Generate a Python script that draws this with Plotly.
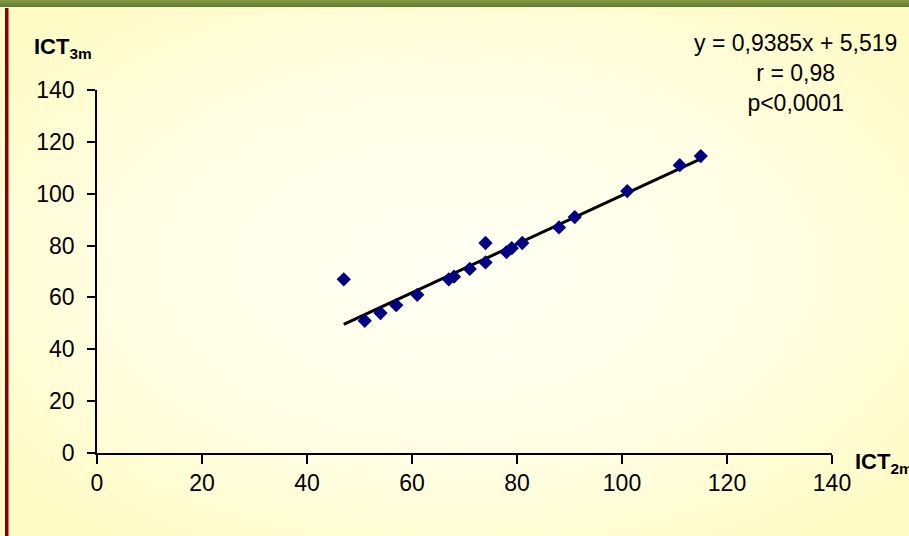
import base64
import plotly.graph_objects as go

# Data
ict_2m = [47, 51, 54, 57, 61, 67, 68, 71, 74, 74, 78, 79, 81, 88, 91, 101, 111, 115]
ict_3m = [67, 51, 54, 57, 61, 67, 68, 71, 73.5, 81, 77.5, 79, 81, 87, 91, 101, 111, 114.5]

slope = 0.9385
intercept = 5.519
eq_lines = ["y = 0,9385x + 5,519", "r = 0,98", "p<0,0001"]
x_ticks = [0, 20, 40, 60, 80, 100, 120, 140]
y_ticks = [0, 20, 40, 60, 80, 100, 120, 140]

W, H = 909, 536
L, R, T, B = 97, 77, 90, 83
pw, ph = W - L - R, H - T - B

fit_x = [min(ict_2m), max(ict_2m)]
fit_y = [slope * v + intercept for v in fit_x]

svg = f'''<svg xmlns="http://www.w3.org/2000/svg" width="{W}" height="{H}" viewBox="0 0 {W} {H}" preserveAspectRatio="none">
<defs>
<radialGradient id="g" cx="50%" cy="50%" r="65%">
<stop offset="0" stop-color="#fffff4"/>
<stop offset="0.55" stop-color="#fffee4"/>
<stop offset="1" stop-color="#fffbc4"/>
</radialGradient>
<linearGradient id="gb" x1="0" y1="0" x2="0" y2="1">
<stop offset="0" stop-color="#869a45"/>
<stop offset="1" stop-color="#5f7a2f"/>
</linearGradient>
</defs>
<rect width="{W}" height="{H}" fill="url(#g)"/>
<rect x="0" y="0" width="{W}" height="7" fill="url(#gb)"/>
<rect x="5" y="8" width="3.5" height="{H-8}" fill="#8a0000"/>
</svg>'''
src = "data:image/svg+xml;base64," + base64.b64encode(svg.encode()).decode()

fig = go.Figure()
fig.add_trace(go.Scatter(
    x=fit_x, y=fit_y, mode="lines",
    line=dict(color="black", width=3), hoverinfo="skip", showlegend=False))
fig.add_trace(go.Scatter(
    x=ict_2m, y=ict_3m, mode="markers",
    marker=dict(symbol="diamond", size=11, color="#000080", line=dict(width=0)),
    showlegend=False))

FAM = "Arial, Liberation Sans, sans-serif"
tick_font = dict(family=FAM, size=23, color="black")
ann_font = dict(family=FAM, size=23, color="black")
title_font = dict(family=FAM, size=22, color="black")

fig.update_layout(
    width=W, height=H,
    margin=dict(l=L, r=R, t=T, b=B),
    paper_bgcolor="#fffde0",
    plot_bgcolor="rgba(0,0,0,0)",
    font=tick_font,
    images=[dict(source=src, xref="paper", yref="paper",
                 x=-L / pw, y=1 + T / ph, sizex=W / pw, sizey=H / ph,
                 xanchor="left", yanchor="top", sizing="stretch", layer="below")],
    xaxis=dict(range=[0, 140], tickvals=x_ticks, ticktext=[str(v) for v in x_ticks],
               showgrid=False, zeroline=False, showline=True, linecolor="black",
               linewidth=1.5, ticks="outside", ticklen=9, tickwidth=1.5,
               tickcolor="black", tickfont=tick_font),
    yaxis=dict(range=[0, 140], tickvals=y_ticks, ticktext=[str(v) for v in y_ticks],
               showgrid=False, zeroline=False, showline=True, linecolor="black",
               linewidth=1.5, ticks="outside", ticklen=8, tickwidth=1.5,
               tickcolor="black", tickfont=tick_font, ticklabelstandoff=8),
    annotations=[
        dict(text="<br>".join(eq_lines), xref="paper", yref="paper",
             x=(795 - L) / pw, y=1 + (T - 73) / ph, xanchor="center", yanchor="middle",
             align="center", showarrow=False, font=ann_font),
        dict(text="<b>ICT<sub>3m</sub></b>", xref="paper", yref="paper",
             x=(32 - L) / pw, y=1 + (T - 48) / ph, xanchor="left", yanchor="middle",
             showarrow=False, font=title_font),
        dict(text="<b>ICT<sub>2m</sub></b>", xref="paper", yref="paper",
             x=(853 - L) / pw, y=-(463 - (H - B)) / ph, xanchor="left", yanchor="middle",
             showarrow=False, font=title_font),
    ],
)

fig.write_html(
    "out.html",
    config={"displayModeBar": False},
    post_script="document.body.style.margin='0';document.body.style.padding='0';"
                "document.body.style.overflow='hidden';",
)
